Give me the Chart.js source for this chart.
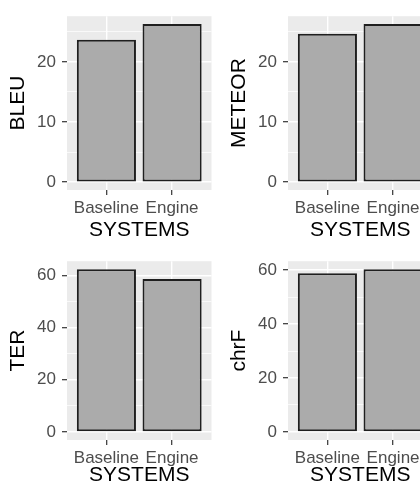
<!DOCTYPE html>
<html>
<head>
<meta charset="utf-8">
<script src="https://cdn.jsdelivr.net/npm/chart.js@4.4.1/dist/chart.umd.min.js"></script>
<style>
  html, body { margin: 0; padding: 0; background: #fff; }
  body { width: 420px; height: 490px; overflow: hidden; position: relative; }
  canvas { position: absolute; }
</style>
</head>
<body>
<canvas id="bleuChart" width="215" height="245" style="left:0;top:0"></canvas>
<canvas id="meteorChart" width="215" height="245" style="left:221px;top:0"></canvas>
<canvas id="terChart" width="215" height="245" style="left:0;top:245px"></canvas>
<canvas id="chrfChart" width="215" height="245" style="left:221px;top:245px"></canvas>
<script>
// ── Data ─────────────────────────────────────────────
const systems = ['Baseline', 'Engine'];
const bleu = [23.7, 26.3];
const meteor = [24.7, 26.3];
const ter = [62.4, 58.7];
const chrf = [58.8, 60.3];
const ticksSmall = [0, 10, 20];
const ticksLarge = [0, 20, 40, 60];

const FONT = "'Liberation Sans', Arial, sans-serif";

// grey panel background, like ggplot's theme_grey
const panelBg = {
    id: 'panelBg',
    beforeDraw(chart) {
        const { ctx, chartArea: a } = chart;
        ctx.save();
        ctx.fillStyle = '#ebebeb';
        ctx.fillRect(a.left, a.top, a.right - a.left, a.bottom - a.top);
        ctx.restore();
    }
};

/**
 * One ggplot-ish bar panel.
 * box: plot area inside the canvas
 */
function makePanel(canvasId, title, values, majors, box) {
    const ctx = document.getElementById(canvasId);
    const top = Math.max(...values);
    const step = majors[1] - majors[0];
    // major + minor ticks (minor halfway, white thin lines)
    const yTicks = [];
    for (let v = 0; v <= top * 1.05; v += step / 2) yTicks.push(v);
    const isMajor = v => majors.includes(v);

    new Chart(ctx, {
        type: 'bar',
        data: {
            datasets: [{
                data: values.map((v, i) => ({ x: i + 1, y: v })),
                backgroundColor: '#ababab',
                borderColor: '#1f1f1f',
                borderWidth: 2,
                borderSkipped: false,
                categoryPercentage: 0.9,
                barPercentage: 1
            }]
        },
        plugins: [panelBg],
        options: {
            responsive: false,
            animation: false,
            devicePixelRatio: 1,
            layout: { padding: { left: 0, top: box.top, right: box.right, bottom: 0 } },
            plugins: { legend: { display: false }, tooltip: { enabled: false } },
            scales: {
                x: {
                    type: 'linear',
                    offset: false,
                    min: 0.4,
                    max: systems.length + 0.6,
                    bounds: 'data',
                    afterBuildTicks: s => { s.ticks = systems.map((_, i) => ({ value: i + 1 })); },
                    afterFit: s => { s.height = box.xh; },
                    ticks: {
                        autoSkip: false,
                        maxRotation: 0,
                        padding: 3,
                        color: '#4d4d4d',
                        font: { family: FONT, size: 17 },
                        callback: v => systems[v - 1]
                    },
                    grid: {
                        color: '#ffffff',
                        lineWidth: 1.4,
                        offset: false,
                        tickColor: '#333333',
                        tickLength: 5,
                        tickWidth: 1.2
                    },
                    border: { display: false },
                    title: {
                        display: true,
                        text: 'SYSTEMS',
                        color: '#000',
                        font: { family: FONT, size: 21 },
                        padding: { top: 0, bottom: 2 }
                    }
                },
                y: {
                    min: -0.05 * top,
                    max: 1.05 * top,
                    bounds: 'data',
                    afterBuildTicks: s => { s.ticks = yTicks.map(v => ({ value: v })); },
                    afterFit: s => { s.width = box.yw; },
                    ticks: {
                        autoSkip: false,
                        padding: 6,
                        color: '#4d4d4d',
                        font: { family: FONT, size: 17 },
                        callback: v => isMajor(v) ? v : ''
                    },
                    grid: {
                        color: '#ffffff',
                        lineWidth: c => isMajor(c.tick.value) ? 1.4 : 0.7,
                        tickColor: c => isMajor(c.tick.value) ? '#333333' : 'rgba(0,0,0,0)',
                        tickLength: 5,
                        tickWidth: 1.2
                    },
                    border: { display: false },
                    title: {
                        display: true,
                        text: title,
                        color: '#000',
                        font: { family: FONT, size: 21 },
                        padding: { top: 6, bottom: 0 }
                    }
                }
            }
        }
    });
}

const topBox = { top: 10, right: 3.5, yw: 67, xh: 55 };
const bottomBox = { top: 15, right: 3.5, yw: 67, xh: 50 };

makePanel('bleuChart', 'BLEU', bleu, ticksSmall, topBox);
makePanel('meteorChart', 'METEOR', meteor, ticksSmall, topBox);
makePanel('terChart', 'TER', ter, ticksLarge, bottomBox);
makePanel('chrfChart', 'chrF', chrf, ticksLarge, bottomBox);
</script>
</body>
</html>
